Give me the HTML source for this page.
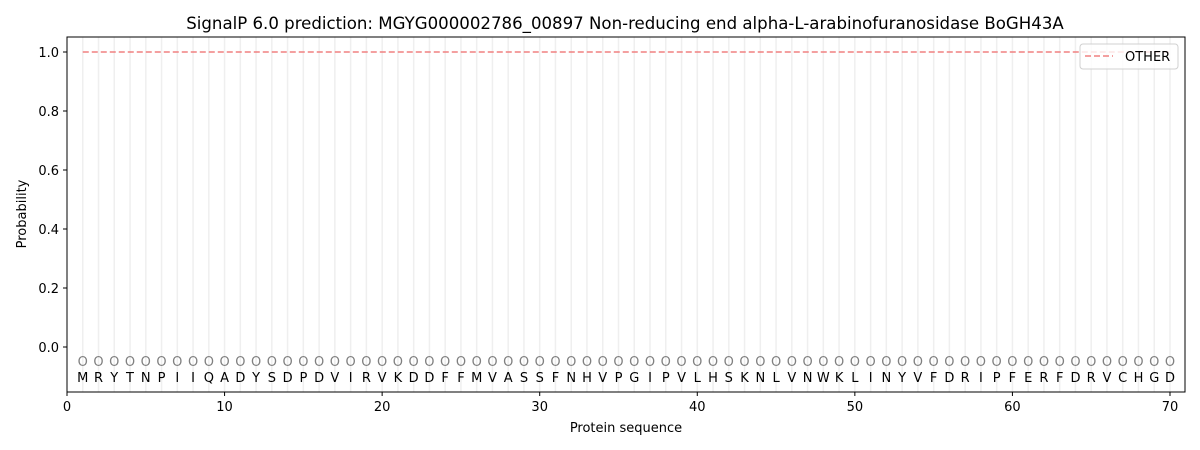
<!DOCTYPE html>
<html><head><meta charset="utf-8"><style>body{margin:0;background:#fff}svg{display:block}text{font-family:"DejaVu Sans","Liberation Sans",sans-serif}</style></head>
<body>
<svg width="1200" height="450" viewBox="0 0 1200 450" xmlns="http://www.w3.org/2000/svg">
<rect width="1200" height="450" fill="#fff"/>
<g transform="translate(67,0) scale(15.757,1)">
<path fill="none" stroke="#efefef" stroke-width="1.5" vector-effect="non-scaling-stroke" d="M1 37V392M2 37V392M3 37V392M4 37V392M5 37V392M6 37V392M7 37V392M8 37V392M9 37V392M10 37V392M11 37V392M12 37V392M13 37V392M14 37V392M15 37V392M16 37V392M17 37V392M18 37V392M19 37V392M20 37V392M21 37V392M22 37V392M23 37V392M24 37V392M25 37V392M26 37V392M27 37V392M28 37V392M29 37V392M30 37V392M31 37V392M32 37V392M33 37V392M34 37V392M35 37V392M36 37V392M37 37V392M38 37V392M39 37V392M40 37V392M41 37V392M42 37V392M43 37V392M44 37V392M45 37V392M46 37V392M47 37V392M48 37V392M49 37V392M50 37V392M51 37V392M52 37V392M53 37V392M54 37V392M55 37V392M56 37V392M57 37V392M58 37V392M59 37V392M60 37V392M61 37V392M62 37V392M63 37V392M64 37V392M65 37V392M66 37V392M67 37V392M68 37V392M69 37V392M70 37V392"/>
</g>
<line x1="82.76" y1="52" x2="1169.99" y2="52" stroke="#f08080" stroke-width="1.5" stroke-dasharray="6,3"/>
<text font-size="13" fill="#808080" text-anchor="middle" y="366" x="82.76 98.51 114.27 130.03 145.79 161.54 177.30 193.06 208.81 224.57 240.33 256.09 271.84 287.6 303.36 319.11 334.87 350.63 366.38 382.14 397.9 413.66 429.41 445.17 460.93 476.68 492.44 508.2 523.95 539.71 555.47 571.23 586.98 602.74 618.5 634.25 650.01 665.77 681.52 697.28 713.04 728.8 744.55 760.31 776.07 791.82 807.58 823.34 839.09 854.85 870.61 886.37 902.12 917.88 933.64 949.39 965.15 980.91 996.66 1012.42 1028.18 1043.94 1059.69 1075.45 1091.21 1106.96 1122.72 1138.48 1154.23 1169.99">OOOOOOOOOOOOOOOOOOOOOOOOOOOOOOOOOOOOOOOOOOOOOOOOOOOOOOOOOOOOOOOOOOOOOO</text>
<text font-size="13" fill="#000" text-anchor="middle" y="382" x="82.76 98.51 114.27 130.03 145.79 161.54 177.30 193.06 208.81 224.57 240.33 256.09 271.84 287.6 303.36 319.11 334.87 350.63 366.38 382.14 397.9 413.66 429.41 445.17 460.93 476.68 492.44 508.2 523.95 539.71 555.47 571.23 586.98 602.74 618.5 634.25 650.01 665.77 681.52 697.28 713.04 728.8 744.55 760.31 776.07 791.82 807.58 823.34 839.09 854.85 870.61 886.37 902.12 917.88 933.64 949.39 965.15 980.91 996.66 1012.42 1028.18 1043.94 1059.69 1075.45 1091.21 1106.96 1122.72 1138.48 1154.23 1169.99">MRYTNPIIQADYSDPDVIRVKDDFFMVASSFNHVPGIPVLHSKNLVNWKLINYVFDRIPFERFDRVCHGD</text>
<rect x="67" y="37" width="1118" height="355" fill="none" stroke="#000" stroke-width="1"/>
<g stroke="#000" stroke-width="1">
<path d="M67 392v4M224.57 392v4M382.14 392v4M539.71 392v4M697.28 392v4M854.85 392v4M1012.42 392v4M1169.99 392v4"/>
<path d="M67 347h-4M67 288h-4M67 229h-4M67 170h-4M67 111h-4M67 52h-4"/>
</g>
<g font-size="13" fill="#000" text-anchor="middle">
<text x="67" y="411">0</text><text x="224.57" y="411">10</text><text x="382.14" y="411">20</text><text x="539.71" y="411">30</text><text x="697.28" y="411">40</text><text x="854.85" y="411">50</text><text x="1012.42" y="411">60</text><text x="1169.99" y="411">70</text>
</g>
<g font-size="13" fill="#000" text-anchor="end">
<text x="59" y="352">0.0</text><text x="59" y="293">0.2</text><text x="59" y="234">0.4</text><text x="59" y="175">0.6</text><text x="59" y="116">0.8</text><text x="59" y="57">1.0</text>
</g>
<text x="626" y="432" font-size="13" text-anchor="middle">Protein sequence</text>
<text transform="translate(26,214) rotate(-90)" font-size="13" text-anchor="middle">Probability</text>
<text x="625" y="29" font-size="16.6" text-anchor="middle">SignalP 6.0 prediction: MGYG000002786_00897 Non-reducing end alpha-L-arabinofuranosidase BoGH43A</text>
<rect x="1080" y="44" width="98" height="25" rx="3" fill="#fff" fill-opacity="0.8" stroke="#d0d0d0"/>
<line x1="1085" y1="56" x2="1113" y2="56" stroke="#f08080" stroke-width="1.5" stroke-dasharray="6,3"/>
<text x="1125" y="61" font-size="13">OTHER</text>
</svg>
</body></html>
